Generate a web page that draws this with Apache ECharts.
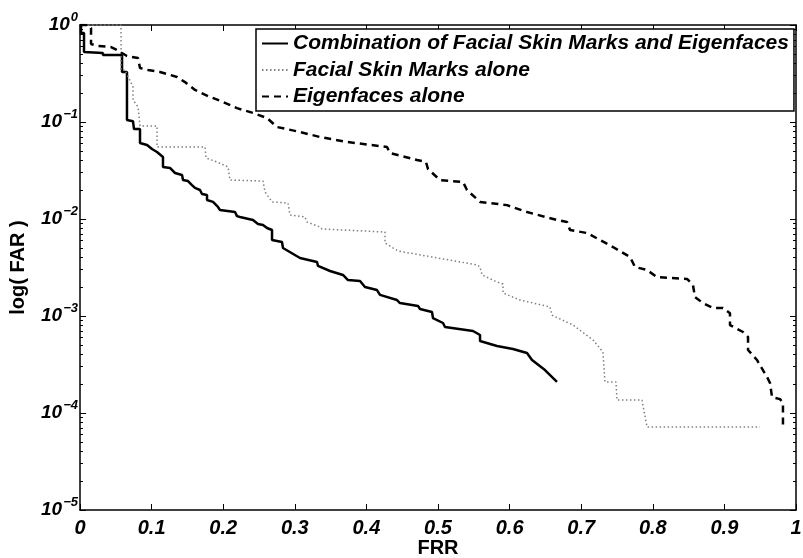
<!DOCTYPE html>
<html>
<head>
<meta charset="utf-8">
<script src="https://cdn.jsdelivr.net/npm/echarts@6/dist/echarts.min.js"></script>
<style>
  html, body { margin: 0; padding: 0; background: #fff; }
  #chart { width: 803px; height: 558px; }
</style>
</head>
<body>
<div id="chart"></div>
<script>
// 读图得到的数据（FRR / FAR）
const seriesNames = [
  'Combination of Facial Skin Marks and Eigenfaces',
  'Facial Skin Marks alone',
  'Eigenfaces alone'
]

const combinedFrr = [0.0014, 0.0014, 0.0056, 0.0056, 0.032, 0.032, 0.0587, 0.0587, 0.0656, 0.0656, 0.074, 0.0754, 0.0838, 0.0838,
  0.0936, 0.1006, 0.1075, 0.1159, 0.1159, 0.1257, 0.1327, 0.1425, 0.1439, 0.1508, 0.1564, 0.1606, 0.1676, 0.1704, 0.1774, 0.1774,
  0.1858, 0.1927, 0.1955, 0.2165, 0.2193, 0.2235, 0.2416, 0.2486, 0.2556, 0.2612, 0.2682, 0.2682, 0.2821, 0.2835, 0.3073, 0.331,
  0.3324, 0.3492, 0.3673, 0.3743, 0.3911, 0.398, 0.4148, 0.419, 0.4427, 0.4469, 0.4721, 0.4749, 0.4916, 0.493, 0.507, 0.5098,
  0.5489, 0.5587, 0.5587, 0.5824, 0.6047, 0.6243, 0.6313, 0.6494, 0.6662]
const combinedFar = [1, 0.827, 0.827, 0.527, 0.515, 0.491, 0.491, 0.328, 0.328, 0.105, 0.102, 0.0847, 0.0847, 0.0608,
  0.0579, 0.0527, 0.0491, 0.0436, 0.0344, 0.0336, 0.0298, 0.0284, 0.0252, 0.0246, 0.0224, 0.0209, 0.0199, 0.0181, 0.0177, 0.0157,
  0.015, 0.0133, 0.0124, 0.0118, 0.0107, 0.0105, 0.00977, 0.00888, 0.00867, 0.00807, 0.0077, 0.00608, 0.00579, 0.00502, 0.00396, 0.0036,
  0.00328, 0.00291, 0.00265, 0.00235, 0.0023, 0.00199, 0.00185, 0.00165, 0.00146, 0.00136, 0.00127, 0.00118, 0.0011, 0.000953, 0.000847, 0.000771,
  0.0007, 0.000637, 0.000552, 0.000491, 0.000457, 0.000416, 0.000352, 0.000277, 0.000209]

const skinFrr = [0, 0.0573, 0.0573, 0.0628, 0.074, 0.074, 0.081, 0.0838, 0.1075, 0.1075, 0.1746, 0.176, 0.1913, 0.2067, 0.2095,
  0.2556, 0.2584, 0.2682, 0.2905, 0.2933, 0.3142, 0.317, 0.3352, 0.338, 0.426, 0.426, 0.4441, 0.4916, 0.5545, 0.5587, 0.5615,
  0.5824, 0.5908, 0.5908, 0.6145, 0.6564, 0.6592, 0.6885, 0.7165, 0.7304, 0.7332, 0.7486, 0.75, 0.7849, 0.7919, 0.9497]
const skinFar = [1, 1, 0.344, 0.344, 0.23, 0.169, 0.143, 0.091, 0.091, 0.0552, 0.0552, 0.0426, 0.0387, 0.0344, 0.0252,
  0.0246, 0.019, 0.015, 0.0146, 0.011, 0.0105, 0.00931, 0.00828, 0.00789, 0.00734, 0.00566, 0.00468, 0.00406, 0.00336, 0.0032, 0.00265,
  0.00224, 0.00214, 0.00173, 0.00146, 0.00124, 0.00102, 0.000807, 0.000566, 0.000426, 0.000209, 0.000209, 0.000136, 0.000136, 0.0000718, 0.0000718]

const eigenFrr = [0, 0.0112, 0.0154, 0.0154, 0.0251, 0.0433, 0.0517, 0.0656, 0.081, 0.0838, 0.095, 0.1117, 0.1355, 0.1466, 0.1606,
  0.1788, 0.1997, 0.2193, 0.2416, 0.2612, 0.2751, 0.3073, 0.3352, 0.3729, 0.4288, 0.433, 0.4707, 0.4832, 0.486, 0.5028, 0.5349,
  0.5405, 0.5587, 0.5964, 0.6243, 0.6662, 0.6802, 0.6844, 0.7081, 0.7263, 0.7444, 0.7682, 0.7751, 0.7919, 0.8059, 0.8478, 0.8561,
  0.8589, 0.8701, 0.8841, 0.898, 0.9078, 0.9078, 0.926, 0.933, 0.933, 0.9455, 0.9595, 0.9637, 0.9665, 0.9777, 0.9818, 0.9818]
const eigenFar = [1, 1, 0.931, 0.637, 0.608, 0.593, 0.552, 0.479, 0.457, 0.36, 0.344, 0.328, 0.291, 0.258, 0.214,
  0.185, 0.161, 0.139, 0.124, 0.11, 0.0888, 0.0789, 0.07, 0.0622, 0.0552, 0.0479, 0.0406, 0.0387, 0.0328, 0.0252, 0.0241,
  0.0199, 0.015, 0.0139, 0.0118, 0.00977, 0.00931, 0.0077, 0.00717, 0.00608, 0.00514, 0.00406, 0.0032, 0.00298, 0.00252, 0.00241, 0.00209,
  0.00157, 0.00136, 0.00121, 0.00121, 0.00107, 0.000807, 0.000684, 0.000608, 0.000446, 0.000352, 0.000235, 0.000204, 0.000146, 0.000139, 0.000127, 0.0000718]

const xTickLabels = ['0', '0.1', '0.2', '0.3', '0.4', '0.5', '0.6', '0.7', '0.8', '0.9', '1']
const yDecades = [-5, -4, -3, -2, -1, 0]

const FONT = 'Liberation Sans, Arial, Helvetica, sans-serif'

const zip = (xs, ys) => xs.map((x, i) => [x, ys[i]])

// 对数轴的次刻度（2..9 × 10^n），放在对数空间的辅助轴上
const minorTickValues = []
yDecades.slice(0, -1).forEach(e => {
  for (let m = 2; m <= 9; m++) minorTickValues.push(e + Math.log10(m))
})

const frameLine = { show: true, onZero: false, lineStyle: { color: '#000', width: 1.5 } }
const majorTick = { show: true, inside: true, length: 6, lineStyle: { color: '#000', width: 1 } }
const minorTick = { show: true, inside: true, length: 3, customValues: minorTickValues, lineStyle: { color: '#000', width: 1 } }

const chart = echarts.init(document.getElementById('chart'), null, { renderer: 'canvas' })

chart.setOption({
  animation: false,
  backgroundColor: '#fff',
  grid: { left: 80, right: 7, top: 25, bottom: 48, containLabel: false, outerBoundsMode: 'none' },
  legend: {
    orient: 'vertical',
    left: 256,
    top: 29,
    backgroundColor: '#fff',
    borderColor: '#000',
    borderWidth: 1.5,
    padding: [4, 5, 4, 5],
    itemWidth: 26,
    itemHeight: 14,
    itemGap: 5.5,
    itemStyle: { opacity: 0 },
    textStyle: { color: '#000', fontSize: 21, lineHeight: 21, fontWeight: 'bold', fontStyle: 'italic', fontFamily: FONT },
    data: seriesNames
  },
  xAxis: [
    {
      type: 'value', min: 0, max: 1, interval: 0.1, position: 'bottom',
      axisLine: frameLine,
      axisTick: majorTick,
      axisLabel: {
        color: '#000', fontSize: 20, fontWeight: 'bold', fontStyle: 'italic', fontFamily: FONT, margin: 8,
        formatter: (v) => xTickLabels[Math.round(v * 10)]
      },
      splitLine: { show: false },
      name: 'FRR', nameLocation: 'middle', nameGap: 28, nameMoveOverlap: false,
      nameTextStyle: { color: '#000', fontSize: 20, fontWeight: 'bold', fontFamily: FONT }
    },
    {
      type: 'value', min: 0, max: 1, interval: 0.1, position: 'top',
      axisLine: frameLine,
      axisTick: majorTick,
      axisLabel: { show: false },
      splitLine: { show: false }
    }
  ],
  yAxis: [
    {
      type: 'log', logBase: 10, min: 1e-5, max: 1, position: 'left',
      axisLine: frameLine,
      axisTick: majorTick,
      axisLabel: {
        margin: 2,
        formatter: (v) => {
          const e = Math.round(Math.log10(v))
          return '{b|10}{s|' + (e < 0 ? '\u2212' + (-e) : e) + '}'
        },
        rich: {
          b: { color: '#000', fontSize: 19, fontWeight: 'bold', fontStyle: 'italic', fontFamily: FONT },
          s: { color: '#000', fontSize: 13, fontWeight: 'bold', fontStyle: 'italic', fontFamily: FONT, padding: [0, 0, 15, 1] }
        }
      },
      splitLine: { show: false },
      name: 'log( FAR )', nameLocation: 'middle', nameGap: 52, nameMoveOverlap: false,
      nameTextStyle: { color: '#000', fontSize: 20, fontWeight: 'bold', fontFamily: FONT }
    },
    {
      type: 'value', min: -5, max: 0, position: 'left',
      axisLine: { show: false, onZero: false },
      axisTick: minorTick,
      axisLabel: { show: false },
      splitLine: { show: false }
    },
    {
      type: 'log', logBase: 10, min: 1e-5, max: 1, position: 'right',
      axisLine: frameLine,
      axisTick: majorTick,
      axisLabel: { show: false },
      splitLine: { show: false }
    },
    {
      type: 'value', min: -5, max: 0, position: 'right',
      axisLine: { show: false, onZero: false },
      axisTick: minorTick,
      axisLabel: { show: false },
      splitLine: { show: false }
    }
  ],
  series: [
    {
      name: seriesNames[0], type: 'line', xAxisIndex: 0, yAxisIndex: 0,
      data: zip(combinedFrr, combinedFar), symbol: 'none', showSymbol: false,
      lineStyle: { color: '#000', width: 2.5, type: 'solid' }, itemStyle: { color: '#000', opacity: 0 }
    },
    {
      name: seriesNames[1], type: 'line', xAxisIndex: 0, yAxisIndex: 0,
      data: zip(skinFrr, skinFar), symbol: 'none', showSymbol: false,
      lineStyle: { color: '#808080', width: 1.5, type: [1.5, 2.5] }, itemStyle: { color: '#808080', opacity: 0 }
    },
    {
      name: seriesNames[2], type: 'line', xAxisIndex: 0, yAxisIndex: 0,
      data: zip(eigenFrr, eigenFar), symbol: 'none', showSymbol: false,
      lineStyle: { color: '#000', width: 2.5, type: [7, 5] }, itemStyle: { color: '#000', opacity: 0 }
    }
  ]
})
</script>
</body>
</html>
